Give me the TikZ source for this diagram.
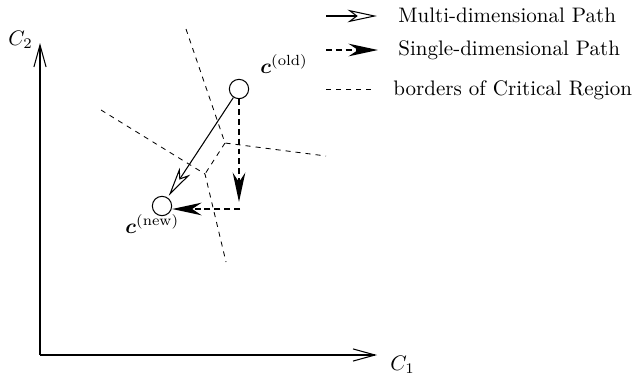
\documentclass[tikz,border=0pt]{standalone}
\usepackage{bm}
\usetikzlibrary{arrows.meta}
\begin{document}
\begin{tikzpicture}[x=0.476pt,y=-0.476pt,
  axis/.style={line width=0.5pt, -{Straight Barb[length=10.5pt,width=5.8pt,line width=0.5pt]}},
  border/.style={line width=0.4pt, dash pattern=on 2.4pt off 2.4pt},
  multipath/.style={line width=0.5pt, -{Stealth[open,length=14pt,width=6pt,inset=4pt]}},
  singlepath/.style={line width=0.8pt, dash pattern=on 2.8pt off 1.9pt, -{Stealth[length=14pt,width=6pt,inset=4.5pt]}},
  point/.style={circle, draw, line width=0.5pt, minimum size=9.2pt, inner sep=0pt},
  lbl/.style={anchor=base west, inner sep=0pt}]
\useasboundingbox (0,0) rectangle (632,376);
% axes
\coordinate (O) at (40,355);
\coordinate (ytip) at (40,43);
\coordinate (xtip) at (377,355);
\draw[axis] (O) -- (ytip);
\draw[axis] (O) -- (xtip);
\node[lbl] (c2) at (8,45) {$C_2$};
\node[lbl] (c1) at (390,370) {$C_1$};
% borders of critical region
\coordinate (A) at (186,29);
\coordinate (P1) at (225,143);
\coordinate (B) at (326,156);
\coordinate (P2) at (205,174);
\coordinate (D) at (101,110);
\coordinate (E) at (226,262);
\draw[border] (A) -- (P1) -- (B);
\draw[border] (P1) -- (P2);
\draw[border] (D) -- (P2) -- (E);
% points
\node[point] (old) at (239,89) {};
\node[point] (new) at (162,206) {};
\node[lbl] (oldl) at (260,73) {$\bm{c}^{(\mathrm{old})}$};
\node[lbl] (newl) at (125,233) {$\bm{c}^{(\mathrm{new})}$};
% paths
\draw[multipath, shorten >=1pt] (old) -- (new);
\coordinate (vt) at (239,202);
\coordinate (hs) at (240,209);
\draw[singlepath] (old) -- (vt);
\draw[singlepath] (hs) -- (hs -| new.east);
% legend
\coordinate (l1a) at (326,16); \coordinate (l1b) at (377,16);
\coordinate (l2a) at (326,50); \coordinate (l2b) at (378,50);
\coordinate (l3a) at (326,89); \coordinate (l3b) at (374,89);
\draw[multipath] (l1a) -- (l1b);
\draw[singlepath] (l2a) -- (l2b);
\draw[border] (l3a) -- (l3b);
\node[lbl] (t1) at (398,22) {Multi-dimensional Path};
\node[lbl] (t2) at (398,55) {Single-dimensional Path};
\node[lbl] (t3) at (393,95) {borders of Critical Region};
\end{tikzpicture}
\end{document}
